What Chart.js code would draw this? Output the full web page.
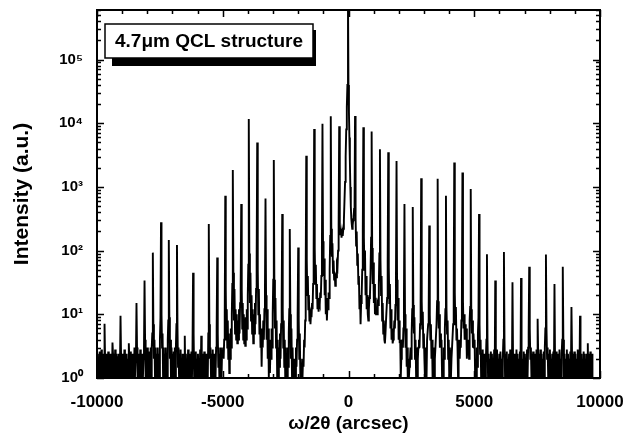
<!DOCTYPE html>
<html>
<head>
<meta charset="utf-8">
<script src="https://cdn.jsdelivr.net/npm/chart.js@4.4.0/dist/chart.umd.min.js"></script>
<style>
  html, body { margin: 0; padding: 0; background: #fff; }
  canvas { display: block; }
</style>
</head>
<body>
<canvas id="chart" width="638" height="441"></canvas>
<script>
// satellite peak positions (arcsec) and peak intensities
const peakPos = [-9700, -9385, -9065, -8735, -8430, -8110, -7780, -7455, -7145, -6820,
  -6510, -6180, -5855, -5555, -5220, -4900, -4600, -4265, -3965, -3630,
  -3300, -2970, -2635, -2335, -2000, -1680, -1365, -1035, -705, -370,
  -20, 260, 590, 920, 1250, 1580, 1910, 2225, 2555, 2890,
  3210, 3545, 3875, 4205, 4530, 4860, 5190, 5505, 5835, 6180,
  6520, 6860, 7185, 7520, 7850, 8190, 8520, 8865, 9205, 9515];
const peakInt = [7.1, 3.6, 9.5, 3.5, 15, 34, 93, 278, 147, 122,
  4.6, 45, 4.6, 262, 78, 730, 1850, 540, 11700, 5000,
  660, 2650, 376, 219, 112, 3100, 8150, 9800, 12900, 8950,
  1000000, 13000, 8650, 7400, 3900, 3500, 2560, 540, 485, 1370,
  247, 1340, 730, 2420, 1680, 930, 375, 88, 34, 95,
  32, 37, 56, 8.5, 87, 30, 56, 13, 9.5, 3.5];

// intensity samples between consecutive peaks (background / troughs)
const gapInt = [
  [2, 1, 2.4, 1, 2.2, 1, 2.6, 1, 1.8, 1, 2.4, 1, 2, 1],
  [2.4, 1, 2, 1, 2.8, 1, 1, 2.4, 1, 2.2, 1, 2.4, 1, 1.5],
  [2.2, 1, 2.4, 1, 2, 1, 2.8, 1, 2.2, 1, 2.4, 1, 2, 1],
  [2, 1, 2.6, 1, 2.2, 1, 2.4, 1, 2, 1, 3, 1, 2, 2.4],
  [3, 1, 2.4, 1, 2, 1, 2.8, 1, 2.2, 1, 2.4, 1, 2, 3],
  [4, 1, 2.4, 1, 3, 1, 2.4, 1, 2.6, 1, 3, 1, 3, 5],
  [7, 2, 4, 1, 3, 1, 2.4, 1, 3, 1, 2.4, 1, 4, 9],
  [10, 3, 5, 1, 3, 1, 2.4, 1, 3, 1.5, 2.4, 1, 4, 8],
  [9, 2, 4, 1, 3, 1, 2.4, 1, 2.6, 1, 3, 1, 3, 7],
  [6, 1.5, 3, 1, 2.4, 1, 2.8, 1, 2, 1, 2.4, 1, 2.4, 1],
  [1, 2.4, 1, 2, 1, 2.8, 1, 2.4, 1, 2, 1, 2.6, 1, 3],
  [5, 1, 2.4, 1, 2.6, 1, 2, 1, 2.4, 1, 2, 1, 2.8, 1],
  [1, 2.4, 1, 2, 1, 2.6, 1, 2.4, 1, 2, 1, 2.4, 1, 5],
  [7, 2, 3, 1, 2.4, 1, 2.8, 1, 2.4, 1, 2.4, 1, 3, 6],
  [5, 1.5, 3, 1, 2.4, 1.5, 3, 1, 2.4, 2, 3, 2, 4, 9],
  [25, 4, 12, 3, 8, 2, 5, 1.2, 4, 2, 6, 3, 10, 30],
  [45, 8, 25, 5, 12, 4, 10, 3.5, 8, 4, 12, 5, 15, 30],
  [25, 6, 15, 4, 10, 3.5, 8, 3.2, 9, 4, 12, 6, 20, 60],
  [90, 15, 45, 8, 20, 5, 12, 3.5, 10, 5, 15, 7, 25, 70],
  [50, 10, 25, 5, 10, 3, 6, 1.5, 5, 3, 8, 4, 12, 25],
  [20, 4, 12, 2, 6, 1, 4, 1.2, 3, 2, 6, 3, 10, 35],
  [35, 6, 18, 3, 8, 1, 4, 1, 3, 1.5, 5, 2, 7, 18],
  [12, 3, 8, 1.5, 4, 1, 3, 1, 2, 1, 3, 1.5, 5, 12],
  [10, 2, 6, 1, 3, 1, 2, 1, 2, 1, 3, 1.5, 4, 10],
  [8, 2, 5, 1, 2, 1, 1.5, 1, 2, 1.5, 4, 3, 8, 45],
  [70, 20, 40, 12, 20, 8, 12, 7, 10, 9, 15, 12, 30, 90],
  [110, 30, 60, 18, 30, 12, 18, 11, 15, 14, 22, 18, 40, 110],
  [140, 40, 75, 20, 35, 10, 18, 8, 14, 12, 22, 18, 50, 170],
  [220, 80, 130, 45, 70, 35, 45, 28, 40, 38, 60, 55, 100, 260],
  [260, 180, 220, 160, 200, 170, 220, 300, 600, 1200, 3000, 8000, 18000, 40000],
  [40000, 15000, 6000, 2500, 1000, 500, 320, 260, 220, 250, 300, 350, 450, 600],
  [320, 120, 200, 60, 90, 30, 40, 12, 20, 7, 15, 20, 50, 200],
  [160, 50, 100, 20, 40, 12, 20, 10, 8, 12, 18, 20, 45, 160],
  [110, 30, 65, 15, 30, 10, 18, 10, 12, 10, 15, 14, 30, 90],
  [70, 20, 40, 8, 15, 5, 8, 4, 3.5, 5, 8, 8, 18, 65],
  [55, 15, 30, 6, 12, 4, 6, 3.5, 4, 5, 8, 6, 14, 45],
  [35, 8, 18, 4, 8, 3.5, 4, 1, 2, 3, 4, 3, 6, 18],
  [10, 3, 6, 1.5, 3, 1, 2, 1, 1.5, 2, 3, 2, 5, 12],
  [14, 5, 9, 2, 4, 1, 3, 1, 2, 3, 4, 3, 7, 16],
  [16, 6, 11, 3, 5, 2, 1, 3, 2, 1, 4, 4, 7, 12],
  [10, 4, 7, 2, 4, 1, 3, 1, 1, 2, 3, 3, 7, 16],
  [16, 6, 10, 3, 5, 3, 4, 1, 2, 1, 3, 2, 6, 12],
  [12, 5, 8, 2, 4, 1, 3, 2, 1, 2, 3, 3, 7, 22],
  [22, 7, 13, 4, 6, 3, 1, 3, 4, 2, 4, 3, 8, 16],
  [16, 6, 10, 4, 7, 4, 6, 2, 3, 3, 4, 2, 8, 13],
  [12, 5, 8, 3, 5, 3, 4, 1, 2, 1, 3, 1.5, 5, 9],
  [7, 2.4, 4, 1, 2.4, 1, 2.8, 1, 2.4, 1, 2.4, 1, 2, 4],
  [4, 1, 2.4, 1, 2, 1, 2.6, 1, 2.4, 1, 2, 1, 2.8, 1],
  [2.4, 1, 2.8, 1, 2, 1, 2.4, 1, 2.6, 1, 2, 1, 2, 4],
  [4, 1, 2.4, 1, 2.6, 1, 2, 1, 2.4, 1, 2.8, 1, 2.4, 1],
  [2, 1, 2.4, 1, 2, 1, 2.8, 1, 2.4, 1, 2, 1, 2.6, 1],
  [2.4, 1, 2, 1, 2.6, 1, 2.4, 1, 2, 1, 2.8, 1, 3, 5],
  [6, 2, 3, 1, 2.4, 1, 2.6, 1, 2, 1, 2.4, 1, 2.8, 1],
  [2.4, 1, 2, 1, 2.8, 1, 2.4, 1, 2, 1, 2.6, 1, 3, 6],
  [6, 2, 3, 1, 2.4, 1, 2.8, 1, 2, 1, 2.4, 1, 2.6, 1],
  [2, 1, 2.6, 1, 2, 1, 2.4, 1, 2.8, 1, 2, 1, 2.4, 4],
  [4, 1, 2.4, 1, 2, 1, 2.8, 1, 2.4, 1, 2, 1, 2.6, 1],
  [2.4, 1, 2, 1, 2.6, 1, 2.4, 1, 2, 1, 2.8, 1, 2.4, 1],
  [2, 1, 2.4, 1, 2, 1, 2.6, 1, 2.4, 1, 2, 1, 2.4, 1]
];
const leadInt = [1, 2.4, 1, 2, 1, 2.6, 1, 2.2, 1, 2.8, 1, 2, 1, 2.4, 1, 2];
const tailInt = [1, 2.4, 1, 2, 1, 2.6, 1, 2.2, 1, 2.4];
const scanStart = -10000;
const scanEnd = 9700;

const xTicks = [-10000, -5000, 0, 5000, 10000];
const xTickLabels = ['-10000', '-5000', '0', '5000', '10000'];
const yTicks = [1, 10, 100, 1000, 10000, 100000];
const yTickLabels = ['10\u2070', '10\u00b9', '10\u00b2', '10\u00b3', '10\u2074', '10\u2075'];
const boxLabel = '4.7\u03bcm QCL structure';

const FONT = "'Liberation Sans', Arial, sans-serif";

function spread(points, from, to, vals) {
  const n = vals.length;
  vals.forEach((v, i) => points.push({ x: from + (to - from) * (i + 1) / (n + 1), y: v }));
}

const scan = [{ x: scanStart, y: 2 }];
spread(scan, scanStart, peakPos[0], leadInt);
peakPos.forEach((p, i) => {
  scan.push({ x: p, y: peakInt[i] });
  if (i < peakPos.length - 1) spread(scan, p, peakPos[i + 1], gapInt[i]);
});
spread(scan, peakPos[peakPos.length - 1], scanEnd, tailInt);
scan.push({ x: scanEnd, y: 1 });

// frame, inward ticks and the label box
const decor = {
  id: 'decor',
  afterDatasetsDraw(chart) {
    const { ctx, chartArea: a, scales: { x, y } } = chart;
    ctx.save();
    ctx.strokeStyle = '#000';
    ctx.lineWidth = 1.5;
    ctx.beginPath();
    for (let v = -10000; v <= 10000; v += 1000) {
      const px = Math.round(x.getPixelForValue(v)) + 0.5;
      const len = v % 5000 === 0 ? 7 : 4;
      ctx.moveTo(px, a.bottom); ctx.lineTo(px, a.bottom - len);
      ctx.moveTo(px, a.top); ctx.lineTo(px, a.top + len);
    }
    for (let d = 1; d <= 100000; d *= 10) {
      for (let m = 1; m <= 9; m++) {
        const v = d * m;
        if (v > y.max) break;
        const py = Math.round(y.getPixelForValue(v)) + 0.5;
        const len = m === 1 ? 7 : 4;
        ctx.moveTo(a.left, py); ctx.lineTo(a.left + len, py);
        ctx.moveTo(a.right, py); ctx.lineTo(a.right - len, py);
      }
    }
    ctx.stroke();
    ctx.lineWidth = 2;
    ctx.strokeRect(a.left, a.top, a.right - a.left, a.bottom - a.top);

    // label box with drop shadow
    const bx = a.left + 8, by = a.top + 14, bw = 208, bh = 34;
    ctx.fillStyle = '#000';
    ctx.fillRect(bx + 7, by + 6, bw - 4, bh + 2);
    ctx.fillStyle = '#fff';
    ctx.fillRect(bx, by, bw, bh);
    ctx.lineWidth = 1.5;
    ctx.strokeRect(bx, by, bw, bh);
    ctx.fillStyle = '#000';
    ctx.font = 'bold 19px ' + FONT;
    ctx.textAlign = 'center';
    ctx.textBaseline = 'middle';
    ctx.fillText(boxLabel, bx + bw / 2, by + bh / 2 + 1);
    ctx.restore();
  }
};

new Chart(document.getElementById('chart'), {
  type: 'line',
  data: {
    datasets: [{
      data: scan,
      borderColor: '#000',
      borderWidth: 1.9,
      pointRadius: 0,
      tension: 0,
      fill: false
    }]
  },
  options: {
    responsive: false,
    animation: false,
    events: [],
    layout: { padding: { left: 6, right: 38, top: 10, bottom: 2 } },
    plugins: { legend: { display: false }, tooltip: { enabled: false } },
    scales: {
      x: {
        type: 'linear',
        min: -10000,
        max: 10000,
        grid: { display: false },
        border: { display: false },
        afterBuildTicks: s => { s.ticks = xTicks.map(v => ({ value: v })); },
        afterFit: s => { s.height = 61; },
        ticks: {
          color: '#000',
          padding: 6,
          maxRotation: 0,
          font: { family: FONT, size: 17, weight: 'bold' },
          callback: (v, i) => xTickLabels[i]
        },
        title: {
          display: true,
          text: '\u03c9/2\u03b8 (arcsec)',
          color: '#000',
          padding: { top: 12 },
          font: { family: FONT, size: 19, weight: 'bold' }
        }
      },
      y: {
        type: 'logarithmic',
        min: 1,
        max: 600000,
        grid: { display: false },
        border: { display: false },
        afterBuildTicks: s => { s.ticks = yTicks.map(v => ({ value: v })); },
        afterFit: s => { s.width = 91; s.paddingTop = 0; s.paddingBottom = 0; },
        ticks: {
          color: '#000',
          padding: 6,
          font: { family: FONT, size: 15, weight: 'bold' },
          callback: (v, i) => yTickLabels[i]
        },
        title: {
          display: true,
          text: 'Intensity (a.u.)',
          color: '#000',
          padding: { bottom: 3 },
          font: { family: FONT, size: 21, weight: 'bold' }
        }
      }
    }
  },
  plugins: [decor]
});
</script>
</body>
</html>
